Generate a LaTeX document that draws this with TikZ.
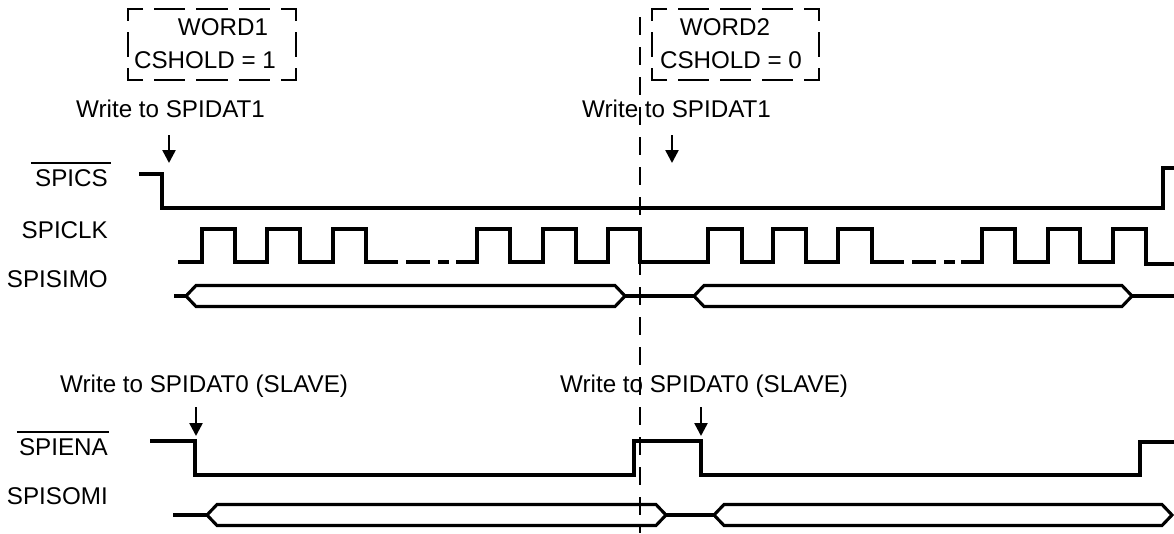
\documentclass[tikz,border=0pt]{standalone}
\usepackage{fontspec}
\setmainfont{Liberation Sans}
\usetikzlibrary{arrows.meta}
\newcommand{\mybus}[3]{%
  \draw[wave] (#1,#3) -- ++(10,-10.5) -- (#2-10,#3-10.5) -- (#2,#3) -- (#2-10,#3+10.5) -- (#1+10,#3+10.5) -- cycle;}
% dashed box with corner brackets: x1 x2 y1 y2
\newcommand{\mydbox}[4]{%
  \draw[dbox] (#1+15,#3) -- (#1,#3) -- (#1,#3+12);
  \draw[dbox] (#2-15,#3) -- (#2,#3) -- (#2,#3+12);
  \draw[dbox] (#1+15,#4) -- (#1,#4) -- (#1,#4-12);
  \draw[dbox] (#2-15,#4) -- (#2,#4) -- (#2,#4-12);
  \foreach \yy in {#3,#4}{
    \draw[dbox] (#1+26,\yy) -- (#1+57,\yy);
    \draw[dbox] (#1+68,\yy) -- (#2-68,\yy);
    \draw[dbox] (#2-57,\yy) -- (#2-26,\yy);}
  \draw[dbox] (#1,#3+23) -- (#1,#4-23);
  \draw[dbox] (#2,#3+23) -- (#2,#4-23);}
\begin{document}
\begin{tikzpicture}[x=1pt,y=-1pt,
  wave/.style={line width=3.1pt, line join=miter},
  lbl/.style={inner sep=0pt, font=\fontsize{24.2}{29}\selectfont},
  wrarrow/.style={line width=2.5pt, -{Triangle[length=13pt,width=13pt]}},
  dbox/.style={line width=2pt, line join=miter},
  vdash/.style={line width=2pt, dash pattern=on 18pt off 12pt},
  ovl/.style={line width=1.6pt}]
\useasboundingbox (0,0) rectangle (1174,533);

% dashed word boxes
\mydbox{128}{296}{9}{80}
\mydbox{652}{819}{9}{80}
\node[lbl, anchor=base] (w1) at (223,35) {WORD1};
\node[lbl, anchor=base] (c1) at (205,68) {CSHOLD = 1};
\node[lbl, anchor=base] (w2) at (725,35) {WORD2};
\node[lbl, anchor=base] (c2) at (731,68) {CSHOLD = 0};

% vertical dashed marker
\coordinate (vtop) at (640,17);
\coordinate (vbot) at (640,533);
\draw[vdash] (vtop) -- (vbot);

% write labels and arrows
\node[lbl, anchor=base west] (wr1) at (76,117) {Write to SPIDAT1};
\node[lbl, anchor=base west] (wr2) at (582,117) {Write to SPIDAT1};
\node[lbl, anchor=base west] (ws1) at (60,392) {Write to SPIDAT0 (SLAVE)};
\node[lbl, anchor=base west] (ws2) at (560,392) {Write to SPIDAT0 (SLAVE)};
\coordinate (a1s) at (169,135); \coordinate (a1e) at (169,163);
\coordinate (a2s) at (672,135); \coordinate (a2e) at (672,163);
\coordinate (a3s) at (196,407); \coordinate (a3e) at (196,436);
\coordinate (a4s) at (701,407); \coordinate (a4e) at (701,436);
\draw[wrarrow] (a1s) -- (a1e);
\draw[wrarrow] (a2s) -- (a2e);
\draw[wrarrow] (a3s) -- (a3e);
\draw[wrarrow] (a4s) -- (a4e);

% signal names
\node[lbl, anchor=base east] (ncs) at (108,186) {SPICS};
\draw[ovl] ([xshift=-4pt,yshift=6pt]ncs.north west) -- ([xshift=3pt,yshift=6pt]ncs.north east);
\node[lbl, anchor=base east] (nclk) at (108,238) {SPICLK};
\node[lbl, anchor=base east] (nsimo) at (108,287) {SPISIMO};
\node[lbl, anchor=base east] (nena) at (108,455) {SPIENA};
\draw[ovl] ([xshift=-2pt,yshift=6pt]nena.north west) -- ([xshift=1pt,yshift=6pt]nena.north east);
\node[lbl, anchor=base east] (nsomi) at (108,504) {SPISOMI};

% SPICS
\draw[wave] (139,174) -- (162,174) -- (162,208) -- (1163,208) -- (1163,168) -- (1174,168);

% SPICLK
\draw[wave] (178,262) -- (202,262) -- (202,229) -- (235,229) -- (235,262) -- (267,262) -- (267,229) -- (300,229) -- (300,262) -- (333,262) -- (333,229) -- (366,229) -- (366,262) -- (398,262);
\draw[wave] (406,262) -- (430,262);
\draw[wave] (438,262) -- (449,262);
\draw[wave] (456,262) -- (477,262) -- (477,229) -- (510,229) -- (510,262) -- (543,262) -- (543,229) -- (576,229) -- (576,262) -- (608,262) -- (608,229) -- (640,229) -- (640,262) -- (708,262) -- (708,229) -- (742,229) -- (742,262) -- (773,262) -- (773,229) -- (806,229) -- (806,262) -- (838,262) -- (838,229) -- (872,229) -- (872,262) -- (904,262);
\draw[wave] (912,262) -- (936,262);
\draw[wave] (944,262) -- (955,262);
\draw[wave] (961,262) -- (982,262) -- (982,229) -- (1015,229) -- (1015,262) -- (1048,262) -- (1048,229) -- (1080,229) -- (1080,262) -- (1113,262) -- (1113,229) -- (1146,229) -- (1146,264) -- (1174,264);

% SPISIMO
\draw[wave] (174,296) -- (186,296);
\mybus{186}{625}{296}
\draw[wave] (625,296) -- (694,296);
\mybus{694}{1132}{296}
\draw[wave] (1132,296) -- (1174,296);

% SPIENA
\draw[wave] (150,441) -- (195,441) -- (195,475) -- (634,475) -- (634,441) -- (701,441) -- (701,475) -- (1140,475) -- (1140,442) -- (1174,442);

% SPISOMI
\draw[wave] (173,515) -- (207,515);
\mybus{207}{666}{515}
\draw[wave] (666,515) -- (714,515);
\mybus{714}{1172}{515}
\end{tikzpicture}
\end{document}
